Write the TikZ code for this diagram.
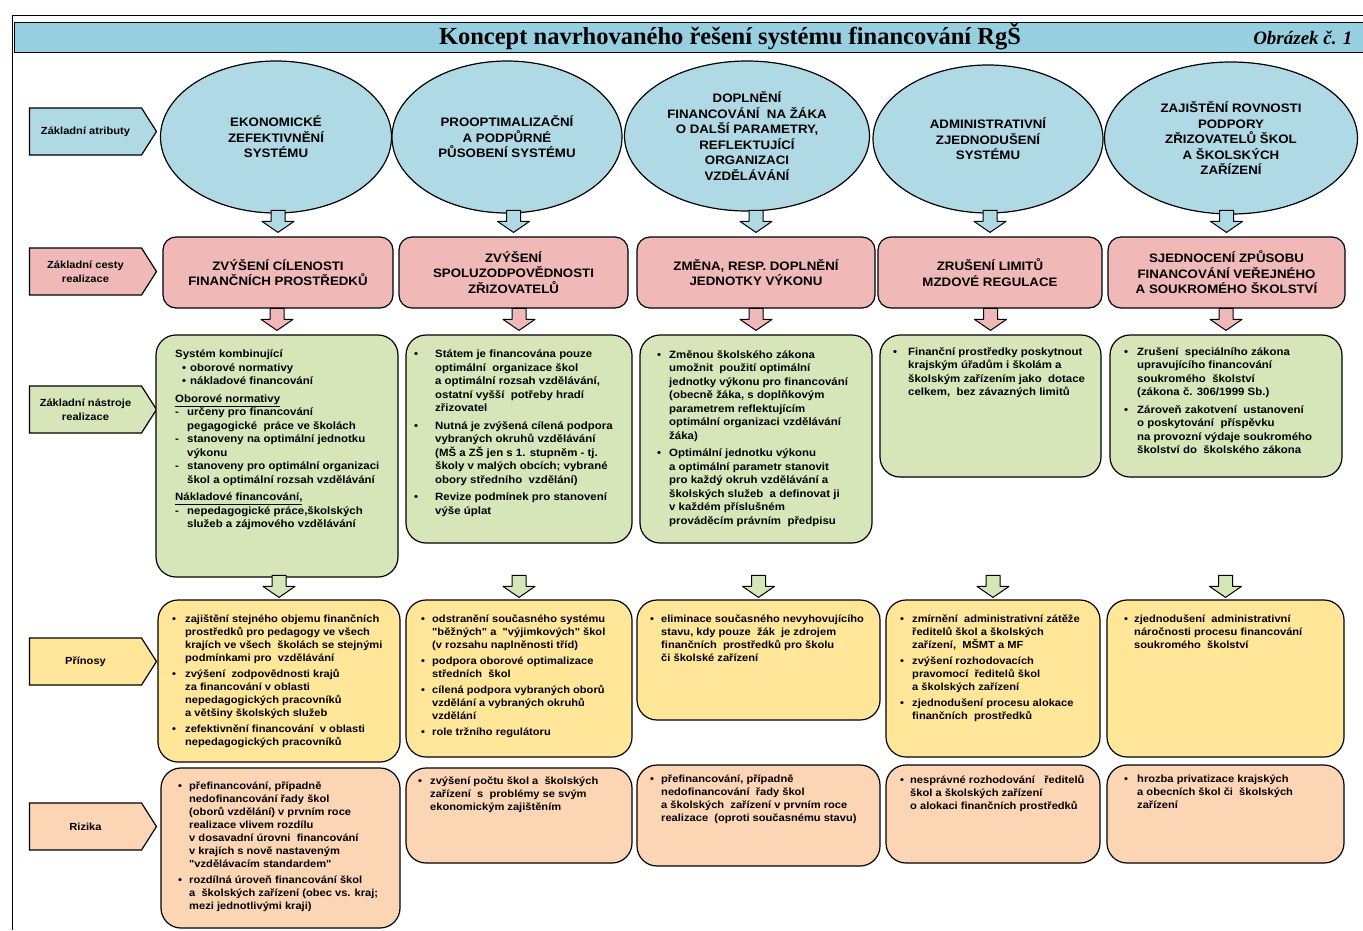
\documentclass[tikz,border=0pt]{standalone}
\usepackage{fontspec}
\newfontfamily\arial{Liberation Sans}[FakeStretch=1.08]
\newfontfamily\titlefont{Liberation Serif}
\usetikzlibrary{shapes.geometric,shapes.symbols,calc}

\definecolor{cBlue}{RGB}{176,217,230}
\definecolor{cTitle}{RGB}{150,208,224}
\definecolor{cPink}{RGB}{240,185,184}
\definecolor{cGreen}{RGB}{215,230,185}
\definecolor{cYellow}{RGB}{255,230,153}
\definecolor{cOrange}{RGB}{252,213,181}

\newcommand\fsBig{\arial\fontsize{12.3}{15.5}\selectfont\bfseries}
\newcommand\fsG{\arial\fontsize{10.6}{13.5}\selectfont\bfseries}
\newcommand\fsS{\arial\fontsize{10.3}{13}\selectfont\bfseries}
\newcommand\fsL{\arial\fontsize{10.3}{14}\selectfont\bfseries}
\newcommand\bl[1][12pt]{\makebox[#1][l]{\textbullet}}
\newcommand\ind[1][12pt]{\hspace*{#1}}
\newcommand\dsh{\makebox[12pt][l]{-}}

\tikzset{
  rm/.style={draw=black, line width=1.2pt},
  atr/.style={rm, ellipse, fill=cBlue, inner sep=0pt, align=center, font=\fsBig},
  ces/.style={rm, rounded corners=13pt, fill=cPink, inner sep=0pt, align=center, font=\fsBig},
  ram/.style={rm, rounded corners=20pt, inner sep=0pt},
  txt/.style={anchor=north west, align=left, inner sep=0pt},
  lbl/.style={rm, signal, signal to=east, signal pointer angle=115, minimum width=127pt, minimum height=47pt, inner sep=0pt, align=center, font=\fsL},
  sipka/.pic={\draw[pic actions, line width=1pt, line join=round] (0,0) -- (16,11) -- (7,11) -- (7,22) -- (-7,22) -- (-7,11) -- (-16,11) -- cycle;}
}

\begin{document}
\begin{tikzpicture}[x=1pt, y=1pt]
	\useasboundingbox (0,0) rectangle (1363,-930);
	%Rahmen und Titel
	\draw[line width=1pt] (12,-930) -- (12,-15) -- (1363,-15);
	\draw[rm, line width=1pt, fill=cTitle] (14,-22) rectangle (1363,-52);
	\node[font=\titlefont\fontsize{24.5}{28}\selectfont\bfseries] (titel) at (730,-37) {Koncept navrhovaného řešení systému financování RgŠ};
	\node[anchor=east, font=\titlefont\fontsize{19}{22}\selectfont\bfseries\itshape] (obr) at (1356,-38) {Obrázek č. 1};

	%Zeilenbeschriftung
	\node[lbl, fill=cBlue] (lAtr) at (85.5,-131.5) {Základní atributy};
	\node[lbl, fill=cPink] (lCes) at (85.5,-271.5) {Základní cesty\\realizace};
	\node[lbl, fill=cGreen] (lNas) at (85.5,-409.5) {Základní nástroje\\realizace};
	\node[lbl, fill=cYellow] (lPri) at (85.5,-661.5) {Přínosy};
	\node[lbl, fill=cOrange] (lRiz) at (85.5,-826.5) {Rizika};

	%Atributy
	\node[atr, minimum width=231pt, minimum height=152pt] (at1) at (276,-137) {EKONOMICKÉ\\ZEFEKTIVNĚNÍ\\SYSTÉMU};
	\node[atr, minimum width=230pt, minimum height=152pt] (at2) at (507,-137) {PROOPTIMALIZAČNÍ\\A PODPŮRNÉ\\PŮSOBENÍ SYSTÉMU};
	\node[atr, minimum width=245pt, minimum height=150pt] (at3) at (747,-136) {DOPLNĚNÍ\\FINANCOVÁNÍ\ \ NA ŽÁKA\\O DALŠÍ PARAMETRY,\\REFLEKTUJÍCÍ\\ORGANIZACI\\VZDĚLÁVÁNÍ};
	\node[atr, minimum width=230pt, minimum height=148pt] (at4) at (988,-139) {ADMINISTRATIVNÍ\\ZJEDNODUŠENÍ\\SYSTÉMU};
	\node[atr, minimum width=253pt, minimum height=152pt] (at5) at (1231,-138) {ZAJIŠTĚNÍ ROVNOSTI\\PODPORY\\ZŘIZOVATELŮ ŠKOL\\A ŠKOLSKÝCH\\ZAŘÍZENÍ};

	%Cesty
	\node[ces, minimum width=230pt, minimum height=71pt] (ce1) at (278,-272.5) {ZVÝŠENÍ CÍLENOSTI\\FINANČNÍCH PROSTŘEDKŮ};
	\node[ces, minimum width=229pt, minimum height=71pt] (ce2) at (513.5,-272.5) {ZVÝŠENÍ\\SPOLUZODPOVĚDNOSTI\\ZŘIZOVATELŮ};
	\node[ces, minimum width=238pt, minimum height=71pt] (ce3) at (756,-272.5) {ZMĚNA, RESP. DOPLNĚNÍ\\JEDNOTKY VÝKONU};
	\node[ces, minimum width=224pt, minimum height=71pt] (ce4) at (990,-272.5) {ZRUŠENÍ LIMITŮ\\MZDOVÉ REGULACE};
	\node[ces, minimum width=237pt, minimum height=71pt] (ce5) at (1226.5,-272.5) {SJEDNOCENÍ ZPŮSOBU\\FINANCOVÁNÍ VEŘEJNÉHO\\A SOUKROMÉHO ŠKOLSTVÍ};

	%Nastroje
	\node[ram, fill=cGreen, minimum width=242pt, minimum height=242pt] (na1) at (277,-456) {};
	\node[ram, fill=cGreen, minimum width=226pt, minimum height=208pt] (na2) at (519,-439) {};
	\node[ram, fill=cGreen, minimum width=232pt, minimum height=208pt] (na3) at (756,-439) {};
	\node[ram, fill=cGreen, minimum width=221pt, minimum height=142pt] (na4) at (990.5,-406) {};
	\node[ram, fill=cGreen, minimum width=232pt, minimum height=142pt] (na5) at (1226,-406) {};

	\node[txt, font=\fsG] (na1t) at (175,-350) {Systém kombinující\\
		\ind[7pt]\bl[8pt]oborové normativy\\
		\ind[7pt]\bl[8pt]nákladové financování\\[4pt]
		\underline{Oborové normativy}\\
		\dsh určeny pro financování\\
		\ind pegagogické\ \ práce ve školách\\
		\dsh stanoveny na optimální jednotku\\
		\ind výkonu\\
		\dsh stanoveny pro optimální organizaci\\
		\ind škol a optimální rozsah vzdělávání\\[4pt]
		\underline{Nákladové financování,}\\
		\dsh nepedagogické práce,školských\\
		\ind služeb a zájmového vzdělávání};
	\node[txt, font=\fsG] (na2t) at (414,-350) {\bl[21pt]Státem je financována pouze\\
		\ind[21pt]optimální\ \ organizace škol\\
		\ind[21pt]a optimální rozsah vzdělávání,\\
		\ind[21pt]ostatní vyšší\ \ potřeby hradí\\
		\ind[21pt]zřizovatel\\[4pt]
		\bl[21pt]Nutná je zvýšená cílená podpora\\
		\ind[21pt]vybraných okruhů vzdělávání\\
		\ind[21pt](MŠ a ZŠ jen s 1. stupněm - tj.\\
		\ind[21pt]školy v malých obcích; vybrané\\
		\ind[21pt]obory středního\ \ vzdělání)\\[4pt]
		\bl[21pt]Revize podmínek pro stanovení\\
		\ind[21pt]výše úplat};
	\node[txt, font=\fsG] (na3t) at (657,-350) {\bl Změnou školského zákona\\
		\ind umožnit\ \ použití optimální\\
		\ind jednotky výkonu pro financování\\
		\ind (obecně žáka, s doplňkovým\\
		\ind parametrem reflektujícím\\
		\ind optimální organizaci vzdělávání\\
		\ind žáka)\\[4pt]
		\bl Optimální jednotku výkonu\\
		\ind a optimální parametr stanovit\\
		\ind pro každý okruh vzdělávání a\\
		\ind školských služeb\ \ a definovat ji\\
		\ind v každém příslušném\\
		\ind prováděcím právním\ \ předpisu};
	\node[txt, font=\fsG] (na4t) at (893,-347) {\bl[15pt]Finanční prostředky poskytnout\\
		\ind[15pt]krajským úřadům i školám a\\
		\ind[15pt]školským zařízením jako\ \ dotace\\
		\ind[15pt]celkem,\ \ bez závazných limitů};
	\node[txt, font=\fsG] (na5t) at (1124,-347) {\bl[13pt]Zrušení\ \ speciálního zákona\\
		\ind[13pt]upravujícího financování\\
		\ind[13pt]soukromého\ \ školství\\
		\ind[13pt](zákona č. 306/1999 Sb.)\\[4pt]
		\bl[13pt]Zároveň zakotvení\ \ ustanovení\\
		\ind[13pt]o poskytování\ \ příspěvku\\
		\ind[13pt]na provozní výdaje soukromého\\
		\ind[13pt]školství do\ \ školského zákona};

	%Prinosy
	\node[ram, fill=cYellow, minimum width=242pt, minimum height=162pt] (pr1) at (279,-681) {};
	\node[ram, fill=cYellow, minimum width=226pt, minimum height=157pt] (pr2) at (519,-678.5) {};
	\node[ram, fill=cYellow, minimum width=243pt, minimum height=120pt] (pr3) at (758.5,-660) {};
	\node[ram, fill=cYellow, minimum width=214pt, minimum height=157pt] (pr4) at (993,-678.5) {};
	\node[ram, fill=cYellow, minimum width=237pt, minimum height=157pt] (pr5) at (1225.5,-678.5) {};

	\node[txt, font=\fsS] (pr1t) at (172,-615) {\bl[13pt]zajištění stejného objemu finančních\\
		\ind[13pt]prostředků pro pedagogy ve všech\\
		\ind[13pt]krajích ve všech\ \ školách se stejnými\\
		\ind[13pt]podmínkami pro\ \ vzdělávání\\[3pt]
		\bl[13pt]zvýšení\ \ zodpovědnosti krajů\\
		\ind[13pt]za financování v oblasti\\
		\ind[13pt]nepedagogických pracovníků\\
		\ind[13pt]a většiny školských služeb\\[3pt]
		\bl[13pt]zefektivnění financování\ \ v oblasti\\
		\ind[13pt]nepedagogických pracovníků};
	\node[txt, font=\fsS] (pr2t) at (421,-615) {\bl[11pt]odstranění současného systému\\
		\ind[11pt]"běžných" a\ \ "výjimkových" škol\\
		\ind[11pt](v rozsahu naplněnosti tříd)\\[3pt]
		\bl[11pt]podpora oborové optimalizace\\
		\ind[11pt]středních\ \ škol\\[3pt]
		\bl[11pt]cílená podpora vybraných oborů\\
		\ind[11pt]vzdělání a vybraných okruhů\\
		\ind[11pt]vzdělání\\[3pt]
		\bl[11pt]role tržního regulátoru};
	\node[txt, font=\fsS] (pr3t) at (650,-615) {\bl[11pt]eliminace současného nevyhovujícího\\
		\ind[11pt]stavu, kdy pouze\ \ žák\ \ je zdrojem\\
		\ind[11pt]finančních\ \ prostředků pro školu\\
		\ind[11pt]či školské zařízení};
	\node[txt, font=\fsS] (pr4t) at (900,-615) {\bl zmírnění\ \ administrativní zátěže\\
		\ind ředitelů škol a školských\\
		\ind zařízení,\ \ MŠMT a MF\\[3pt]
		\bl zvýšení rozhodovacích\\
		\ind pravomocí\ \ ředitelů škol\\
		\ind a školských zařízení\\[3pt]
		\bl zjednodušení procesu alokace\\
		\ind finančních\ \ prostředků};
	\node[txt, font=\fsS] (pr5t) at (1124,-615) {\bl[10pt]zjednodušení\ \ administrativní\\
		\ind[10pt]náročnosti procesu financování\\
		\ind[10pt]soukromého\ \ školství};

	%Rizika
	\node[ram, fill=cOrange, minimum width=239pt, minimum height=160pt] (ri1) at (280.5,-848) {};
	\node[ram, fill=cOrange, minimum width=226pt, minimum height=95pt] (ri2) at (519,-815.5) {};
	\node[ram, fill=cOrange, minimum width=243pt, minimum height=101pt] (ri3) at (758.5,-815.5) {};
	\node[ram, fill=cOrange, minimum width=214pt, minimum height=98pt] (ri4) at (993,-814) {};
	\node[ram, fill=cOrange, minimum width=237pt, minimum height=98pt] (ri5) at (1225.5,-814) {};

	\node[txt, font=\fsS] (ri1t) at (178,-782) {\bl[11pt]přefinancování, případně\\
		\ind[11pt]nedofinancování řady škol\\
		\ind[11pt](oborů vzdělání) v prvním roce\\
		\ind[11pt]realizace vlivem rozdílu\\
		\ind[11pt]v dosavadní úrovni\ \ financování\\
		\ind[11pt]v krajích s nově nastaveným\\
		\ind[11pt]"vzdělávacím standardem"\\[3pt]
		\bl[11pt]rozdílná úroveň financování škol\\
		\ind[11pt]a\ \ školských zařízení (obec vs. kraj;\\
		\ind[11pt]mezi jednotlivými kraji)};
	\node[txt, font=\fsS] (ri2t) at (418,-777) {\bl[12pt]zvýšení počtu škol a\ \ školských\\
		\ind[12pt]zařízení\ \ s\ \ problémy se svým\\
		\ind[12pt]ekonomickým zajištěním};
	\node[txt, font=\fsS] (ri3t) at (650,-775) {\bl[11pt]přefinancování, případně\\
		\ind[11pt]nedofinancování\ \ řady škol\\
		\ind[11pt]a školských\ \ zařízení v prvním roce\\
		\ind[11pt]realizace\ \ (oproti současnému stavu)};
	\node[txt, font=\fsS] (ri4t) at (900,-775) {\bl[10pt]nesprávné rozhodování\ \ \ ředitelů\\
		\ind[10pt]škol a školských zařízení\\
		\ind[10pt]o alokaci finančních prostředků};
	\node[txt, font=\fsS] (ri5t) at (1124,-775) {\bl[13pt]hrozba privatizace krajských\\
		\ind[13pt]a obecních škol či\ \ školských\\
		\ind[13pt]zařízení};

	%Pfeile zwischen den Reihen
	\foreach \i in {1,...,5}
	{
		\pic[fill=cBlue] at ($(ce\i.north)+(0,4)$) {sipka};
		\pic[fill=cPink] at ($(na\i.north)+(0,4)$) {sipka};
		\pic[fill=cGreen] at ($(pr\i.north)+(0,2)$) {sipka};
	}
\end{tikzpicture}
\end{document}
